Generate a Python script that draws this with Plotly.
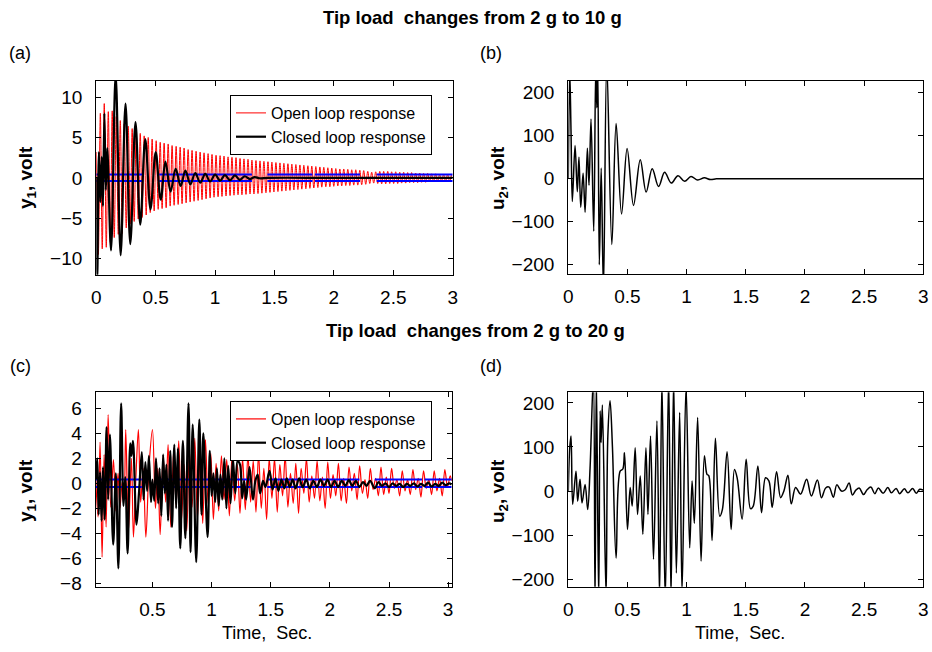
import plotly.graph_objects as go

W, H = 932, 652

# ---------------- data ----------------
# (a) tip load 2 g -> 10 g : y1 open loop (red)
t_a_open = [0.000, 0.017, 0.034, 0.050, 0.067, 0.084, 0.101, 0.118, 0.134, 0.151,
            0.168, 0.185, 0.202, 0.218, 0.235, 0.252, 0.269, 0.286, 0.302, 0.319,
            0.336, 0.353, 0.370, 0.386, 0.403, 0.420, 0.437, 0.454, 0.470, 0.487,
            0.504, 0.521, 0.538, 0.554, 0.571, 0.588, 0.605, 0.622, 0.638, 0.655,
            0.672, 0.689, 0.706, 0.722, 0.739, 0.756, 0.773, 0.790, 0.806, 0.823,
            0.840, 0.857, 0.874, 0.890, 0.907, 0.924, 0.941, 0.958, 0.974, 0.991,
            1.008, 1.025, 1.042, 1.058, 1.075, 1.092, 1.109, 1.126, 1.142, 1.159,
            1.176, 1.193, 1.210, 1.226, 1.243, 1.260, 1.277, 1.294, 1.310, 1.327,
            1.344, 1.361, 1.378, 1.394, 1.411, 1.428, 1.445, 1.462, 1.478, 1.495,
            1.512, 1.529, 1.546, 1.562, 1.579, 1.596, 1.613, 1.630, 1.646, 1.663,
            1.680, 1.697, 1.714, 1.730, 1.747, 1.764, 1.781, 1.798, 1.814, 1.831,
            1.848, 1.865, 1.882, 1.898, 1.915, 1.932, 1.949, 1.966, 1.982, 1.999,
            2.016, 2.033, 2.050, 2.066, 2.083, 2.100, 2.117, 2.134, 2.150, 2.167,
            2.184, 2.201, 2.218, 2.234, 2.251, 2.268, 2.285, 2.302, 2.318, 2.335,
            2.352, 2.369, 2.386, 2.402, 2.419, 2.436, 2.453, 2.470, 2.486, 2.503,
            2.520, 2.537, 2.554, 2.570, 2.587, 2.604, 2.621, 2.638, 2.654, 2.671,
            2.688, 2.705, 2.722, 2.738, 2.755, 2.772, 2.789, 2.806, 2.822, 2.839,
            2.856, 2.873, 2.890, 2.906, 2.923, 2.940, 2.957, 2.974, 2.990]
y_a_open = [3.2, -9.5, 8.0, -8.8, 9.2, -8.6, 8.2, -8.0, 8.3, -7.4,
            7.6, -7.0, 7.1, -6.9, 6.7, -6.2, 6.4, -5.7, 6.1, -5.4,
            5.8, -5.1, 5.5, -4.9, 5.2, -4.6, 5.0, -4.3, 4.8, -4.1,
            4.6, -3.9, 4.4, -3.8, 4.3, -3.7, 4.2, -3.5, 4.0, -3.4,
            3.9, -3.3, 3.8, -3.2, 3.7, -3.1, 3.5, -3.0, 3.4, -2.9,
            3.3, -2.8, 3.2, -2.7, 3.1, -2.6, 3.0, -2.5, 2.9, -2.4,
            2.8, -2.35, 2.75, -2.3, 2.7, -2.25, 2.6, -2.2, 2.55, -2.15,
            2.5, -2.1, 2.4, -2.1, 2.35, -2.05, 2.3, -2.0, 2.2, -2.0,
            2.15, -1.95, 2.1, -1.9, 2.05, -1.85, 2.0, -1.8, 1.95, -1.75,
            1.9, -1.7, 1.85, -1.65, 1.8, -1.6, 1.75, -1.55, 1.7, -1.5,
            1.65, -1.45, 1.6, -1.4, 1.55, -1.35, 1.5, -1.3, 1.45, -1.25,
            1.4, -1.2, 1.35, -1.15, 1.3, -1.1, 1.25, -1.1, 1.2, -1.05,
            1.15, -1.0, 1.1, -1.0, 1.1, -0.95, 1.05, -0.95, 1.0, -0.9,
            1.0, -0.9, 0.95, -0.85, 0.9, -0.8, 0.8, -0.7, 0.7, -0.65,
            0.75, -0.7, 0.8, -0.75, 0.8, -0.75, 0.8, -0.7, 0.75, -0.7,
            0.75, -0.7, 0.7, -0.65, 0.7, -0.65, 0.65, -0.6, 0.65, -0.6,
            0.6, -0.6, 0.6, -0.55, 0.55, -0.55, 0.55, -0.5, 0.5, -0.5,
            0.5, -0.5, 0.45, -0.5, 0.45, -0.45, 0.45, -0.45, 0.4]

# (a) y1 closed loop (black)
t_a_closed = [0.000, 0.008, 0.022, 0.034, 0.046, 0.056, 0.068, 0.080, 0.092, 0.124,
              0.163, 0.205, 0.246, 0.286, 0.330, 0.370, 0.412, 0.456, 0.500, 0.542,
              0.582, 0.625, 0.668, 0.710, 0.750, 0.792, 0.833, 0.875, 0.917, 0.958,
              1.000, 1.042, 1.083, 1.125, 1.167, 1.208, 1.250, 1.292, 1.333, 1.375,
              1.450, 2.000, 3.000]
y_a_closed = [0.0, -12.5, 3.2, -3.0, 2.6, -3.5, 8.0, -1.5, 3.7, -9.0,
              12.8, -9.6, 9.2, -8.2, 6.9, -5.8, 4.8, -3.9, 3.2, -2.7,
              2.0, -1.7, 1.1, -1.0, 0.9, -0.8, 0.6, -0.6, 0.5, -0.45,
              0.4, -0.35, 0.35, -0.3, 0.3, -0.25, 0.2, -0.15, 0.1, -0.05,
              0.0, 0.0, 0.0]

# (a) blue band: level and dashed segments
a_band_level = 0.4
a_band_segments = [(0.0, 0.39), (0.53, 1.31), (1.44, 1.82), (1.84, 2.22), (2.36, 3.0)]

# (b) u2 control signal
t_b = [0.000, 0.012, 0.023, 0.034, 0.057, 0.076, 0.090, 0.105, 0.125, 0.142,
       0.161, 0.175, 0.192, 0.215, 0.232, 0.241, 0.249, 0.262, 0.278, 0.297,
       0.325, 0.368, 0.404, 0.450, 0.497, 0.551, 0.608, 0.658, 0.709, 0.763,
       0.814, 0.870, 0.927, 0.983, 1.037, 1.093, 1.150, 1.201, 1.250, 1.300,
       2.000, 3.000]
u_b = [0, 250, 110, -53, 77, -30, 50, -66, 13, -78,
       71, -15, 139, -122, 260, 165, 260, -200, 25, -260,
       270, -153, 128, -82, 70, -62, 44, -31, 23, -18,
       15, -10, 7, -6, 5, -3, 2, -2, 0, 0,
       0, 0]

# (c) tip load 2 g -> 20 g : y1 open loop (red)
t_c_open = [0.020, 0.040, 0.057, 0.074, 0.091, 0.108, 0.125, 0.147, 0.170, 0.190,
            0.209, 0.225, 0.245, 0.260, 0.274, 0.297, 0.322, 0.339, 0.360, 0.381,
            0.400, 0.421, 0.444, 0.472, 0.500, 0.525, 0.545, 0.565, 0.590, 0.612,
            0.632, 0.655, 0.680, 0.700, 0.722, 0.745, 0.768, 0.790, 0.812, 0.835,
            0.858, 0.880, 0.903, 0.925, 0.948, 0.970, 0.993, 1.015, 1.038, 1.060,
            1.083, 1.105, 1.128, 1.150, 1.172, 1.195, 1.218, 1.240, 1.262, 1.285,
            1.307, 1.330, 1.352, 1.375, 1.397, 1.420, 1.442, 1.465, 1.487, 1.510,
            1.532, 1.555, 1.577, 1.600, 1.622, 1.645, 1.667, 1.690, 1.712, 1.735,
            1.757, 1.780, 1.802, 1.825, 1.847, 1.870, 1.892, 1.915, 1.937, 1.960,
            1.982, 2.005, 2.027, 2.050, 2.072, 2.095, 2.117, 2.140, 2.162, 2.185,
            2.207, 2.230, 2.252, 2.275, 2.297, 2.320, 2.342, 2.365, 2.387, 2.410,
            2.432, 2.455, 2.477, 2.500, 2.522, 2.545, 2.567, 2.590, 2.612, 2.635,
            2.657, 2.680, 2.702, 2.725, 2.747, 2.770, 2.792, 2.815, 2.837, 2.860,
            2.882, 2.905, 2.927, 2.950, 2.972, 2.995, 3.017, 3.030]
y_c_open = [0.5, -2.7, 3.3, -5.9, 2.3, -3.5, 5.5, -1.9, 1.9, -2.2,
            0.8, -2.0, 0.2, -1.0, 4.3, -3.8, 2.0, -4.3, 0.5, 4.3,
            -1.5, 1.2, -4.3, 1.5, 4.3, -2.0, 1.2, -4.1, 2.2, -1.5,
            3.1, -3.5, 2.8, -1.8, 3.4, -3.0, 1.5, -3.8, 2.6, -1.9,
            3.6, -2.8, 2.0, -3.2, 3.5, -1.6, 2.4, -2.9, 1.6, -2.2,
            2.2, -1.3, 1.9, -2.6, 2.1, -1.4, 1.5, -2.4, 2.0, -2.1,
            2.3, -1.5, 1.8, -2.3, 2.4, -2.0, 1.2, -2.9, 2.0, -1.2,
            2.0, -2.3, 1.5, -1.0, 2.2, -1.9, 0.8, -1.6, 1.6, -2.4,
            1.2, -0.8, 2.0, -1.5, 0.6, -1.2, 1.8, -1.4, 0.5, -2.0,
            1.7, -1.2, 0.7, -1.0, 1.6, -1.4, 0.4, -1.6, 1.3, -0.6,
            0.8, -1.3, 1.4, -0.8, 0.3, -1.2, 1.2, -0.5, 0.4, -1.0,
            1.3, -0.9, 0.5, -0.8, 1.2, -0.4, 0.3, -1.0, 1.0, -0.6,
            0.3, -0.9, 1.1, -0.5, 0.4, -1.1, 1.0, -0.4, 0.3, -0.9,
            1.0, -0.6, 0.4, -1.0, 1.1, -0.3, 0.6, 0.2]

# (c) y1 closed loop (black)
t_c_closed = [0.020, 0.033, 0.045, 0.057, 0.070, 0.082, 0.095, 0.112, 0.125, 0.140,
              0.168, 0.190, 0.212, 0.235, 0.255, 0.270, 0.290, 0.312, 0.322, 0.335,
              0.365, 0.385, 0.410, 0.425, 0.440, 0.455, 0.470, 0.488, 0.500, 0.515,
              0.530, 0.548, 0.560, 0.575, 0.590, 0.605, 0.618, 0.632, 0.650, 0.665,
              0.685, 0.700, 0.715, 0.735, 0.757, 0.778, 0.805, 0.822, 0.840, 0.870,
              0.896, 0.915, 0.930, 0.966, 0.985, 1.000, 1.015, 1.030, 1.045, 1.060,
              1.075, 1.090, 1.108, 1.125, 1.140, 1.160, 1.180, 1.200, 1.220, 1.240,
              1.258, 1.275, 1.292, 1.320, 1.350, 1.370, 1.390, 1.410, 1.435, 1.455,
              1.490, 1.515, 1.540, 1.565, 1.590, 1.615, 1.635, 1.660, 1.685, 1.710,
              1.740, 1.770, 1.800, 1.830, 1.860, 1.890, 1.920, 1.950, 1.980, 2.010,
              2.040, 2.070, 2.100, 2.130, 2.160, 2.190, 2.220, 2.250, 2.280, 2.310,
              2.340, 2.380, 2.410, 2.440, 2.470, 2.500, 2.530, 2.560, 2.590, 2.620,
              2.650, 2.680, 2.710, 2.740, 2.770, 2.800, 2.830, 2.860, 2.890, 2.920,
              2.950, 2.980, 3.010, 3.030]
y_c_closed = [0.3, 2.0, -2.5, 0.9, -3.0, 1.3, -2.9, 4.5, -1.3, 3.9,
              -4.9, 0.8, -6.8, 6.4, -1.8, 0.5, -5.6, 3.2, 2.2, 3.4,
              -3.3, -0.9, 2.5, -1.3, 1.7, -0.6, 2.2, -1.5, 0.3, -1.4,
              2.0, -1.6, 1.2, -2.6, 2.3, -0.8, 1.5, -3.0, 2.6, -3.5,
              3.1, -2.0, 2.8, -5.2, 3.4, -4.4, 6.4, -5.5, 4.7, -6.3,
              5.1, -2.5, 4.0, -4.3, 2.6, -1.0, 0.8, -1.5, 1.2, -1.8,
              0.7, -1.3, 2.0, -2.0, 1.4, -1.6, 2.0, -0.8, 1.8, 1.5,
              -1.2, 0.2, -1.3, 1.3, -1.3, 0.2, 0.7, -0.8, 0.2, -0.3,
              1.0, -0.5, 0.4, -0.6, 0.3, -0.4, 0.4, -0.3, 0.3, -0.4,
              0.4, -0.3, 0.3, -0.4, 0.2, -0.3, 0.3, -0.2, 0.3, -0.3,
              0.2, -0.3, 0.2, -0.2, 0.25, -0.2, 0.2, -0.3, 0.1, -0.2,
              0.2, -0.4, 0.1, -0.2, 0.0, -0.3, 0.0, -0.2, -0.05, -0.3,
              -0.05, -0.2, 0.0, -0.25, -0.05, -0.2, 0.05, -0.25, -0.05, -0.2,
              0.05, -0.15, 0.0, -0.1]

c_band_level = 0.3
c_band_segments = [(0.02, 0.41), (0.54, 1.33), (1.47, 2.25), (2.38, 2.78), (2.80, 3.03)]

# (d) u2 control signal
t_d = [0.000, 0.012, 0.023, 0.037, 0.065, 0.079, 0.099, 0.116, 0.142, 0.164,
       0.184, 0.212, 0.226, 0.237, 0.257, 0.269, 0.277, 0.288, 0.319, 0.334,
       0.353, 0.373, 0.404, 0.438, 0.461, 0.475, 0.500, 0.523, 0.540, 0.565,
       0.585, 0.608, 0.630, 0.656, 0.673, 0.695, 0.720, 0.749, 0.771, 0.791,
       0.819, 0.848, 0.868, 0.890, 0.913, 0.941, 0.961, 0.995, 1.026, 1.046,
       1.065, 1.093, 1.122, 1.150, 1.172, 1.187, 1.215, 1.243, 1.280, 1.302,
       1.342, 1.376, 1.404, 1.427, 1.469, 1.503, 1.540, 1.562, 1.602, 1.633,
       1.667, 1.695, 1.723, 1.760, 1.794, 1.822, 1.856, 1.884, 1.921, 1.963,
       2.014, 2.054, 2.105, 2.139, 2.175, 2.204, 2.240, 2.269, 2.308, 2.340,
       2.373, 2.401, 2.430, 2.458, 2.495, 2.525, 2.557, 2.590, 2.620, 2.660,
       2.700, 2.730, 2.770, 2.800, 2.840, 2.870, 2.910, 2.940, 2.970, 3.000]
u_d = [0, 98, 125, -30, 45, -23, 27, -27, 15, -42,
       52, 260, -260, 260, -250, 182, 110, 195, -240, 123,
       205, 100, -152, 45, 50, 87, -87, 8, -34, 98,
       -53, 34, -98, 98, -53, 125, -155, 159, -240, 250,
       -250, 260, -245, 255, -186, 178, -230, 240, -129, 23,
       -73, 167, -159, 80, 38, 35, -112, 120, -57, -42,
       89, -87, 49, 30, -64, 72, -40, -35, 57, -49,
       30, 23, -37, 44, -15, 0, 36, -29, 8, -7,
       27, -11, 25, -15, 7, 9, -14, 14, 0, 3,
       18, -9, 2, 7, -8, 3, 9, -6, 7, -5,
       8, -4, 6, -6, 5, -4, 6, -5, 4, 2]

x_ticks_full = [0, 0.5, 1, 1.5, 2, 2.5, 3]
x_ticktext_full = ["0", "0.5", "1", "1.5", "2", "2.5", "3"]
y_ticks_a = [-10, -5, 0, 5, 10]
y_ticks_u = [-200, -100, 0, 100, 200]
y_ticks_c = [-8, -6, -4, -2, 0, 2, 4, 6]

# ---------------- layout geometry (pixels) ----------------
def xd(x0, x1):
    return [x0 / W, x1 / W]

def yd(top, bottom):
    return [1 - bottom / H, 1 - top / H]

FAM = "Liberation Sans, Arial, sans-serif"
TICKFONT = dict(family=FAM, size=19, color="black")

def axis_common(kind):
    return dict(showline=True, linecolor="black", linewidth=1.3, mirror="allticks",
                ticks="inside", ticklen=5, tickwidth=1, tickcolor="black",
                showgrid=False, zeroline=False, tickfont=TICKFONT,
                ticklabelstandoff=(9 if kind == "y" else 5))

fig = go.Figure()

def band_trace(level, segments, xa, ya):
    xs, ys = [], []
    for lv in (level, -level):
        for s0, s1 in segments:
            xs += [s0, s1, None]
            ys += [lv, lv, None]
    return go.Scatter(x=xs, y=ys, mode="lines", line=dict(color="#0000ff", width=2),
                      showlegend=False, hoverinfo="skip", xaxis=xa, yaxis=ya)

RED_W = 1.0
# (a)
fig.add_trace(go.Scatter(x=t_a_open, y=y_a_open, mode="lines", name="Open loop response",
                         line=dict(color="#ff0000", width=RED_W, shape="spline"),
                         xaxis="x", yaxis="y", legend="legend"))
fig.add_trace(band_trace(a_band_level, a_band_segments, "x", "y"))
fig.add_trace(go.Scatter(x=t_a_closed, y=y_a_closed, mode="lines", name="Closed loop response",
                         line=dict(color="black", width=2.2, shape="spline"),
                         xaxis="x", yaxis="y", legend="legend"))
# (b)
fig.add_trace(go.Scatter(x=t_b, y=u_b, mode="lines", showlegend=False,
                         line=dict(color="black", width=1.5, shape="spline"),
                         xaxis="x2", yaxis="y2"))
# (c)
fig.add_trace(go.Scatter(x=t_c_open, y=y_c_open, mode="lines", name="Open loop response",
                         line=dict(color="#ff0000", width=1.2, shape="spline"),
                         xaxis="x3", yaxis="y3", legend="legend2"))
fig.add_trace(band_trace(c_band_level, c_band_segments, "x3", "y3"))
fig.add_trace(go.Scatter(x=t_c_closed, y=y_c_closed, mode="lines", name="Closed loop response",
                         line=dict(color="black", width=2.2, shape="spline"),
                         xaxis="x3", yaxis="y3", legend="legend2"))
# (d)
fig.add_trace(go.Scatter(x=t_d, y=u_d, mode="lines", showlegend=False,
                         line=dict(color="black", width=1.5, shape="spline"),
                         xaxis="x4", yaxis="y4"))

LEGFONT = dict(family=FAM, size=16, color="black")
layout = dict(
    width=W, height=H, margin=dict(l=0, r=0, t=0, b=0, autoexpand=False),
    paper_bgcolor="white", plot_bgcolor="white",
    font=dict(family=FAM, color="black"),
    xaxis=dict(domain=xd(96.3, 452.7), range=[0, 3], tickvals=x_ticks_full,
               ticktext=x_ticktext_full, anchor="y", **axis_common("x")),
    yaxis=dict(domain=yd(81, 274.7), range=[-12, 12], tickvals=y_ticks_a,
               anchor="x", **axis_common("y")),
    xaxis2=dict(domain=xd(568.3, 923.3), range=[0, 3], tickvals=x_ticks_full,
                ticktext=x_ticktext_full, anchor="y2", **axis_common("x")),
    yaxis2=dict(domain=yd(81, 274.3), range=[-222, 227], tickvals=y_ticks_u,
                anchor="x2", **axis_common("y")),
    xaxis3=dict(domain=xd(95.7, 451.7), range=[0.02, 3.03], tickvals=x_ticks_full[1:],
                ticktext=x_ticktext_full[1:], anchor="y3", **axis_common("x")),
    yaxis3=dict(domain=yd(392.3, 586.7), range=[-8.27, 7.28], tickvals=y_ticks_c,
                anchor="x3", **axis_common("y")),
    xaxis4=dict(domain=xd(568.3, 923.3), range=[0, 3], tickvals=x_ticks_full,
                ticktext=x_ticktext_full, anchor="y4", **axis_common("x")),
    yaxis4=dict(domain=yd(392.3, 586.7), range=[-217, 224], tickvals=y_ticks_u,
                anchor="x4", **axis_common("y")),
    legend=dict(x=432 / W, xanchor="right", y=1 - 95 / H, yanchor="top",
                bgcolor="white", bordercolor="black", borderwidth=1,
                font=LEGFONT, itemwidth=30, tracegroupgap=0),
    legend2=dict(x=432 / W, xanchor="right", y=1 - 401 / H, yanchor="top",
                 bgcolor="white", bordercolor="black", borderwidth=1,
                 font=LEGFONT, itemwidth=30, tracegroupgap=0),
    showlegend=True,
)
fig.update_layout(**layout)

TITLEFONT = dict(family=FAM, size=18.5, color="black")
LABFONT = dict(family=FAM, size=18, color="black")
AXTFONT = dict(family=FAM, size=19, color="black")

def ann(text, x, y, font, **kw):
    fig.add_annotation(text=text, x=x / W, y=1 - y / H, xref="paper", yref="paper",
                       showarrow=False, font=font, xanchor="center", yanchor="middle", **kw)

ann("<b>Tip load  changes from 2 g to 10 g</b>", 472, 18, TITLEFONT)
ann("<b>Tip load  changes from 2 g to 20 g</b>", 475, 331, TITLEFONT)
ann("(a)", 20, 53, LABFONT)
ann("(b)", 491, 53, LABFONT)
ann("(c)", 20, 366, LABFONT)
ann("(d)", 491, 366, LABFONT)
ann("<b>y<sub>1</sub>, volt</b>", 27, 178, AXTFONT, textangle=-90)
ann("<b>u<sub>2</sub>, volt</b>", 499, 178, AXTFONT, textangle=-90)
ann("<b>y<sub>1</sub>, volt</b>", 27, 491, AXTFONT, textangle=-90)
ann("<b>u<sub>2</sub>, volt</b>", 499, 491, AXTFONT, textangle=-90)
ann("Time,  Sec.", 267, 633, LABFONT)
ann("Time,  Sec.", 740, 633, LABFONT)

fig.write_html("out.html", config={"displayModeBar": False},
               post_script="document.body.style.margin='0px';document.body.style.overflow='hidden';")
